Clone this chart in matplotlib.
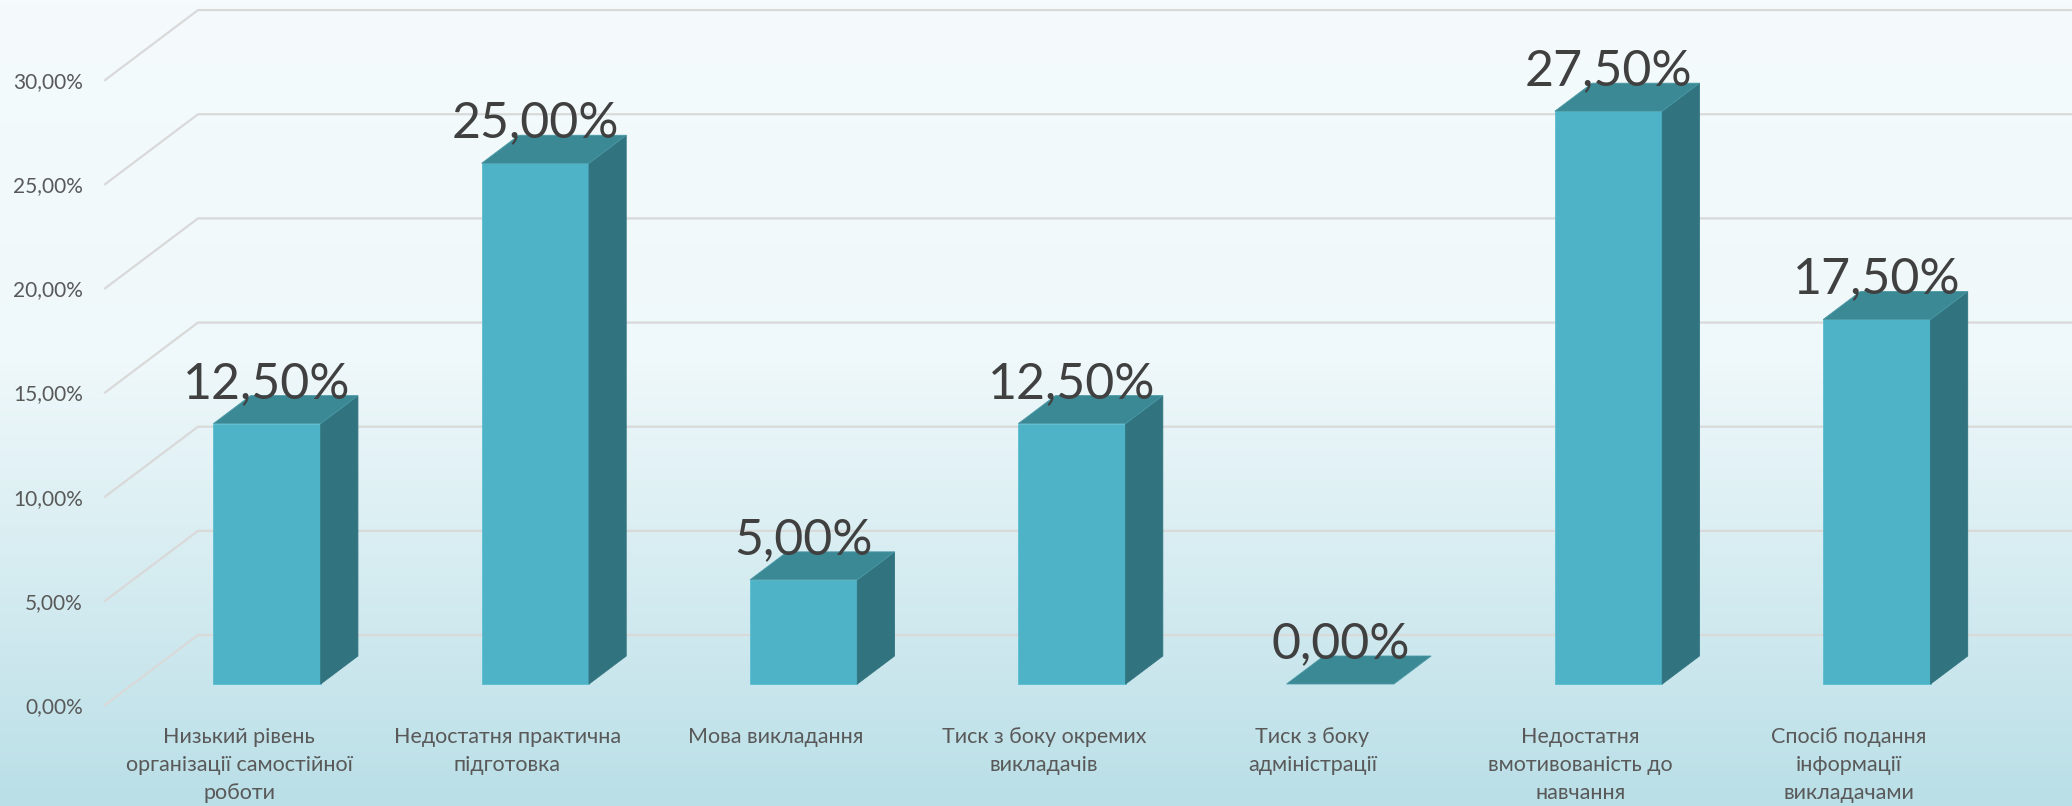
import numpy as np
import matplotlib.pyplot as plt
from matplotlib.patches import Polygon
from matplotlib.colors import LinearSegmentedColormap

categories = [
    "Низький рівень\nорганізації самостійної\nроботи",
    "Недостатня практична\nпідготовка",
    "Мова викладання",
    "Тиск з боку окремих\nвикладачів",
    "Тиск з боку\nадміністрації",
    "Недостатня\nвмотивованість до\nнавчання",
    "Спосіб подання\nінформації\nвикладачами",
]
values = [12.5, 25.0, 5.0, 12.5, 0.0, 27.5, 17.5]
yticks = [0, 5, 10, 15, 20, 25, 30]


def pct(v):
    return f"{v:.2f}%".replace(".", ",")


W, H = 2072, 806
fig = plt.figure(figsize=(W / 100, H / 100), dpi=100)

# background gradient
bg = fig.add_axes([0, 0, 1, 1], zorder=0)
cmap = LinearSegmentedColormap.from_list(
    "bg", [(0, "#F5FBFC"), (0.45, "#EFF8FA"), (1.0, "#BADFE7")])
bg.imshow(np.linspace(0, 1, 256).reshape(-1, 1), aspect="auto", cmap=cmap,
          extent=[0, 1, 1, 0])
bg.axis("off")

# plot axes: left edge = front plane of the category axis
left_px, bottom_px = 105, 101
ax = fig.add_axes([left_px / W, bottom_px / H, 1 - left_px / W, 1 - bottom_px / H],
                  zorder=1)
ax.patch.set_alpha(0)
cat_px = 268.3
pct_px = 20.83
xmax = -0.5 + (W - left_px) / cat_px
ymax = (H - bottom_px) / pct_px
ax.set_xlim(-0.5, xmax)
ax.set_ylim(0, ymax)
for s in ax.spines.values():
    s.set_visible(False)

DX = 93 / cat_px   # depth offset in category units
DY = 70 / pct_px   # depth offset in percent units

# 3D gridlines (side wall diagonal + back wall)
for t in yticks:
    ax.plot([-0.5, -0.5 + DX, xmax + 1], [t, t + DY, t + DY], color="#D9D9D9",
            lw=1.6, clip_on=False, zorder=1, solid_joinstyle="miter")

# bars
bw = 0.4
d0, d1 = 0.3, 0.7
front_c, side_c, top_c = "#4FB3C8", "#31737F", "#3C8996"
for i, v in enumerate(values):
    x0 = i - bw / 2 + d0 * DX
    x1 = x0 + bw
    y0 = d0 * DY
    dd = d1 - d0
    if v > 0:
        ax.add_patch(Polygon([(x0, y0), (x1, y0), (x1, y0 + v), (x0, y0 + v)],
                             closed=True, fc=front_c, ec="#5BBDD0", lw=0.6, zorder=3))
        ax.add_patch(Polygon([(x1, y0), (x1 + dd * DX, y0 + dd * DY),
                              (x1 + dd * DX, y0 + dd * DY + v), (x1, y0 + v)],
                             closed=True, fc=side_c, ec=side_c, lw=0.6, zorder=3))
    yt = y0 + v
    ax.add_patch(Polygon([(x0, yt), (x1, yt), (x1 + dd * DX, yt + dd * DY),
                          (x0 + dd * DX, yt + dd * DY)],
                         closed=True, fc=top_c, ec="#4A99A6", lw=0.6, zorder=3))
    ax.text(i + d0 * DX, yt + dd * DY - 0.1, pct(v), ha="center", va="baseline",
            fontsize=36, color="#404040", family=["Lato", "DejaVu Sans"], zorder=4)

# axis labels
ax.set_yticks(yticks)
ax.set_yticklabels([pct(t) for t in yticks])
ax.set_xticks(range(len(categories)))
ax.set_xticklabels(categories, linespacing=1.5)
ax.tick_params(axis="y", length=0, pad=16, labelsize=15, labelcolor="#595959")
ax.tick_params(axis="x", length=0, pad=16, labelsize=15.5, labelcolor="#595959")
for lbl in ax.get_yticklabels() + ax.get_xticklabels():
    lbl.set_family(["Lato", "DejaVu Sans"])

fig.savefig("out.png", dpi=100)
